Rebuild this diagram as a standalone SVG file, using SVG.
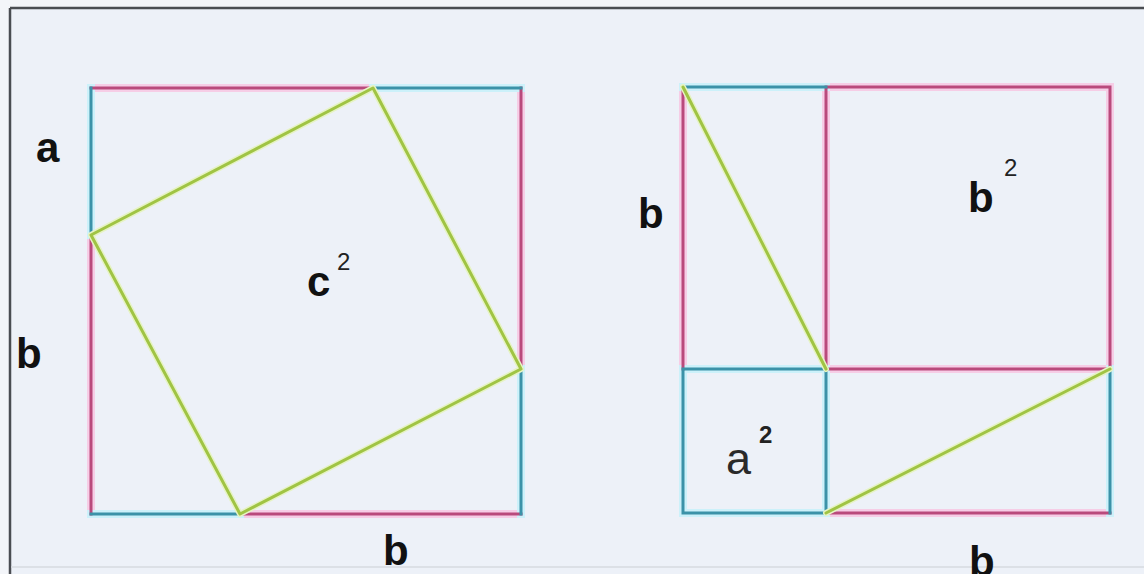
<svg xmlns="http://www.w3.org/2000/svg" width="1144" height="574" viewBox="0 0 1144 574">
<style>
.m{stroke:#b94a7c;stroke-width:3;fill:none;stroke-linecap:square}
.mh{stroke:#f6cde6;stroke-width:8;fill:none;stroke-linecap:square}
.c{stroke:#3b92a8;stroke-width:3;fill:none;stroke-linecap:square}
.ch{stroke:#ccf1fa;stroke-width:8;fill:none;stroke-linecap:square}
.g{stroke:#a0c444;stroke-width:3;fill:none;stroke-linecap:round}
.gh{stroke:#e6f3c4;stroke-width:6;fill:none;stroke-linecap:round}
.lb{font-family:"Liberation Sans",Arial,sans-serif;font-weight:bold;font-size:42px;fill:#111}
.lr{font-family:"Liberation Sans",Arial,sans-serif;font-size:45px;fill:#2a2a2a}
.sup{font-family:"Liberation Sans",Arial,sans-serif;font-size:24px;fill:#222}
</style>
<rect x="0" y="0" width="1144" height="574" fill="#f3f5f9"/>
<rect x="10" y="8" width="1134" height="566" fill="#edf1f8"/>
<line x1="10" y1="8" x2="1144" y2="8" stroke="#4a4d52" stroke-width="2.5"/>
<line x1="10" y1="8" x2="10" y2="574" stroke="#4a4d52" stroke-width="2.5"/>
<line x1="11" y1="567" x2="1144" y2="567" stroke="#d6dae0" stroke-width="1.5"/>

<g id="left-square">
  <path class="mh" d="M91,88 H373 M521,88 V369 M240,514 H521 M91,235 V514"/>
  <path class="ch" d="M373,88 H521 M521,369 V514 M91,514 H240 M91,88 V235"/>
  <path class="m" d="M91,88 H373 M521,88 V369 M240,514 H521 M91,235 V514"/>
  <path class="c" d="M373,88 H521 M521,369 V514 M91,514 H240 M91,88 V235"/>
</g>
<g id="c-square">
  <polygon class="gh" points="373,88 521,369 240,514 91,235" stroke-linejoin="round"/>
  <polygon class="g" points="373,88 521,369 240,514 91,235" stroke-linejoin="round"/>
</g>

<g id="right-figure">
  <path class="mh" d="M683,87 V369 M826,87 H1110 V369 H826 Z M826,513 H1110"/>
  <path class="ch" d="M683,87 H826 M683,369 H826 V513 H683 Z M1110,369 V513"/>
  <path class="m" d="M683,87 V369 M826,87 H1110 V369 H826 Z M826,513 H1110"/>
  <path class="c" d="M683,87 H826 M683,369 H826 V513 H683 Z M1110,369 V513"/>
</g>
<g id="connectors">
  <line class="gh" x1="683" y1="87" x2="826" y2="369"/>
  <line class="gh" x1="826" y1="513" x2="1110" y2="369"/>
  <line class="g" x1="683" y1="87" x2="826" y2="369"/>
  <line class="g" x1="826" y1="513" x2="1110" y2="369"/>
</g>

<g id="labels">
  <text class="lb" x="36" y="162">a</text>
  <text class="lb" x="16" y="368">b</text>
  <text class="lb" x="307" y="296" font-size="44">c</text>
  <text class="sup" x="337" y="270">2</text>
  <text class="lb" x="383" y="565">b</text>
  <text class="lb" x="638" y="228">b</text>
  <text class="lb" x="968" y="212">b</text>
  <text class="sup" x="1004" y="176">2</text>
  <text class="lr" x="726" y="474">a</text>
  <text class="sup" x="759" y="443" font-weight="bold" font-size="29">2</text>
  <text class="lb" x="969" y="576">b</text>
</g>
</svg>
